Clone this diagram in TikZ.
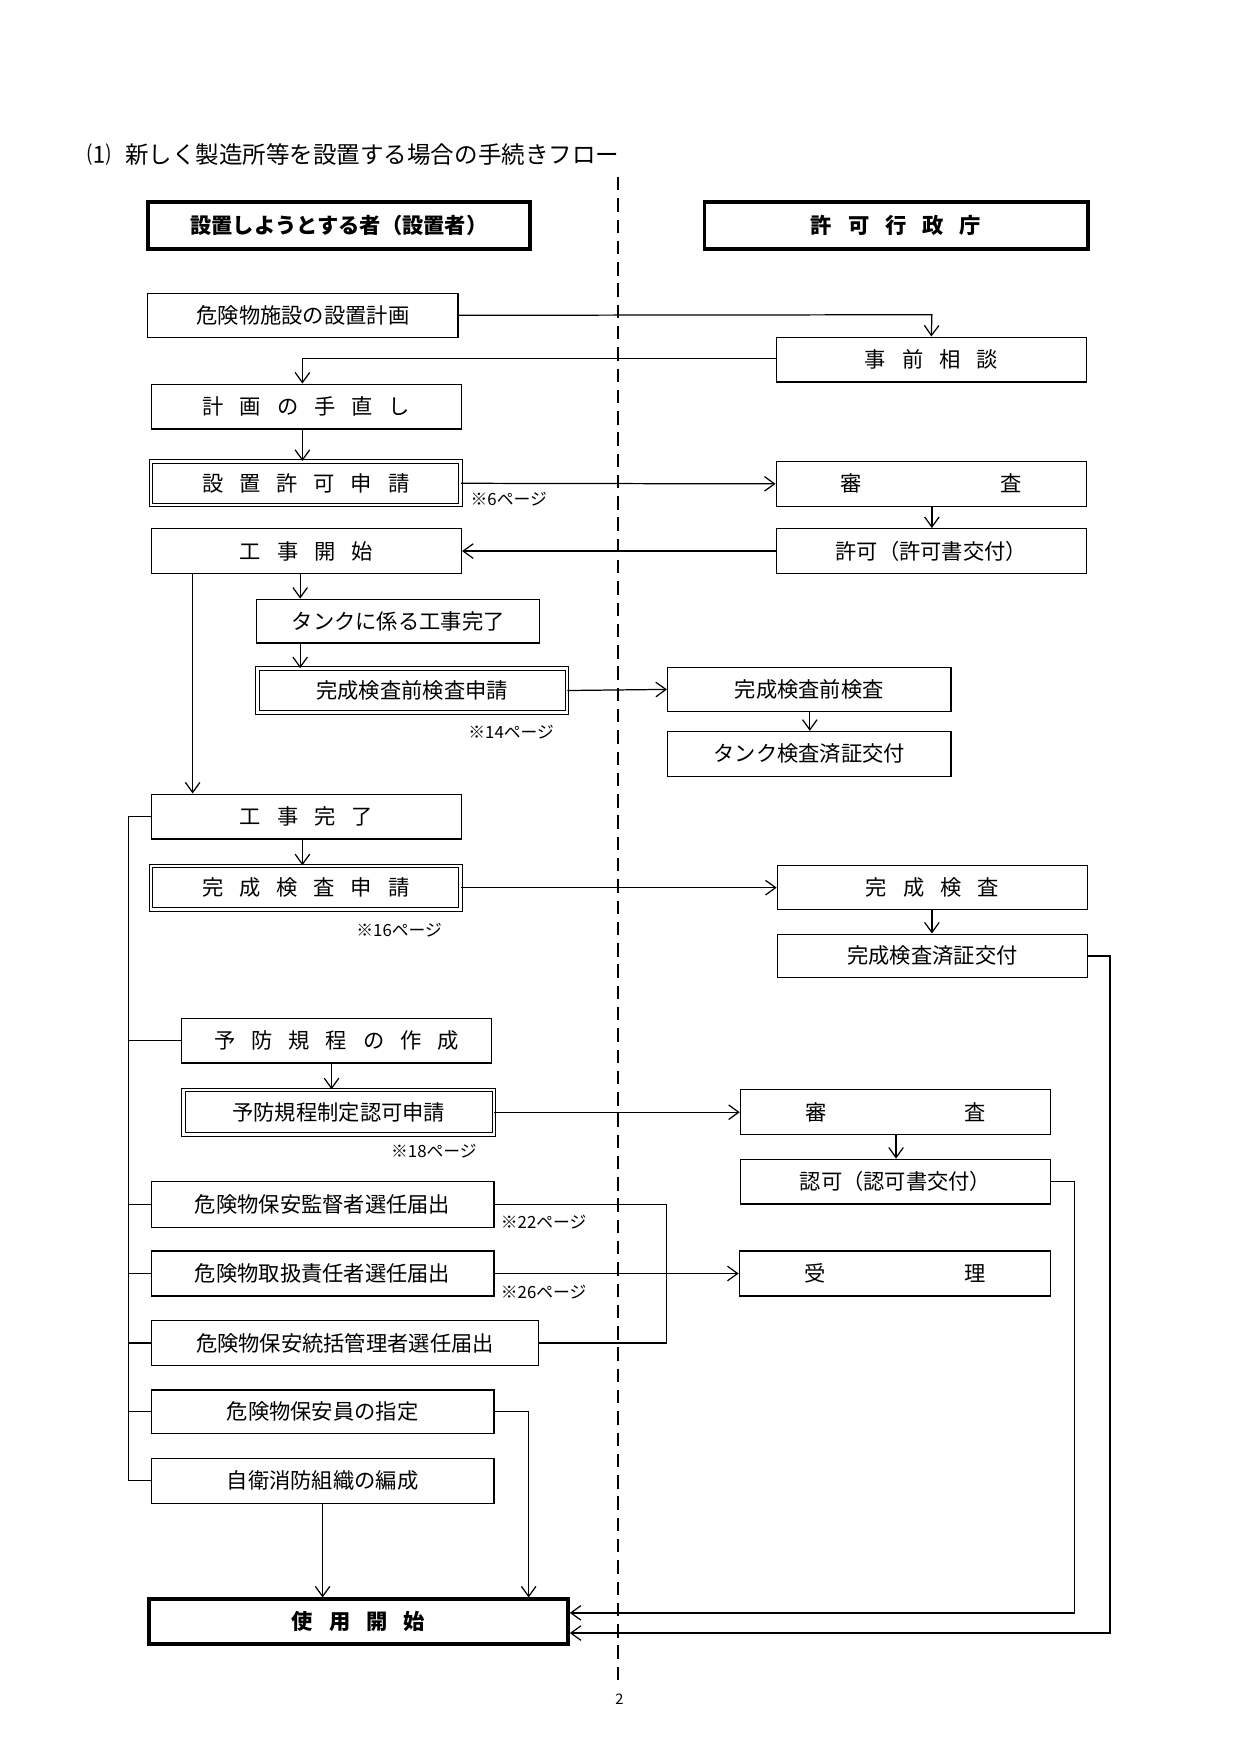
\documentclass[tikz,border=0pt]{standalone}
\usepackage{fontspec}
\setmainfont{Noto Sans CJK JP}
\usetikzlibrary{arrows.meta}
\newcommand\gp{\hspace{0.75em}}
\begin{document}
\begin{tikzpicture}[x=1pt,y=-1pt,
  every node/.style={font=\fontsize{19}{22}\selectfont},
  bx/.style={draw,line width=1.1pt,inner sep=0pt},
  dbl/.style={draw,line width=0.9pt,double,double distance=2.2pt,inner sep=0pt},
  hd/.style={draw,line width=3.5pt,inner sep=0pt,font=\fontsize{19}{22}\selectfont\bfseries},
  ln/.style={line width=1.1pt},
  ar/.style={ln,-{Straight Barb[length=9pt,width=13pt,line width=1.1pt]}},
  nt/.style={font=\fontsize{15}{17}\selectfont,anchor=west,inner sep=0pt}]
\useasboundingbox (0,0) rectangle (1108,1566);
\node[anchor=west,inner sep=0pt,font=\fontsize{21}{24}\selectfont] (title) at (78,138) {⑴\hspace{0.6em}新しく製造所等を設置する場合の手続きフロー};
\draw[line width=2pt,dash pattern=on 12pt off 7pt] (552,158) -- (552,1502);
\node[inner sep=0pt,font=\fontsize{13}{15}\selectfont] (pg) at (553,1517) {2};
\node[hd,minimum width=341pt,minimum height=42pt] (H1) at (302.5,201) {設置しようとする者（設置者）};
\node[hd,minimum width=342pt,minimum height=42pt] (H2) at (800,201) {許\gp 可\gp 行\gp 政\gp 庁};
% left
\node[bx,minimum width=277pt,minimum height=39pt] (A) at (270.5,281.5) {危険物施設の設置計画};
\node[bx,minimum width=277pt,minimum height=40pt] (C) at (273.5,363) {計\gp 画\gp の\gp 手\gp 直\gp し};
\node[dbl,minimum width=276pt,minimum height=39pt] (D) at (273,431.5) {設\gp 置\gp 許\gp 可\gp 申\gp 請};
\node[bx,minimum width=277pt,minimum height=40pt] (G) at (273.5,492) {工\gp 事\gp 開\gp 始};
\node[bx,minimum width=253pt,minimum height=39pt] (H) at (355.5,554.5) {タンクに係る工事完了};
\node[dbl,minimum width=276pt,minimum height=39pt] (I) at (368,616.5) {完成検査前検査申請};
\node[bx,minimum width=277pt,minimum height=40pt] (L) at (273.5,729) {工\gp 事\gp 完\gp 了};
\node[dbl,minimum width=276pt,minimum height=39pt] (M) at (273,792.5) {完\gp 成\gp 検\gp 査\gp 申\gp 請};
\node[bx,minimum width=277pt,minimum height=40pt] (P) at (300.5,929) {予\gp 防\gp 規\gp 程\gp の\gp 作\gp 成};
\node[dbl,minimum width=277pt,minimum height=40pt] (Q) at (302.5,993) {予防規程制定認可申請};
\node[bx,minimum width=306pt,minimum height=41pt] (T) at (288,1075.5) {危険物保安監督者選任届出};
\node[bx,minimum width=306pt,minimum height=40pt] (U) at (288,1137) {危険物取扱責任者選任届出};
\node[bx,minimum width=346pt,minimum height=40pt] (W) at (308,1199) {危険物保安統括管理者選任届出};
\node[bx,minimum width=306pt,minimum height=39pt] (X) at (288,1260.5) {危険物保安員の指定};
\node[bx,minimum width=306pt,minimum height=40pt] (Y) at (288,1322) {自衛消防組織の編成};
\node[hd,minimum width=374pt,minimum height=40pt] (Z) at (320,1448) {使\gp 用\gp 開\gp 始};
% right
\node[bx,minimum width=277pt,minimum height=40pt] (B) at (831.5,321) {事\gp 前\gp 相\gp 談};
\node[bx,minimum width=277pt,minimum height=40pt] (E) at (831.5,432) {審\hspace{6.5em}査};
\node[bx,minimum width=277pt,minimum height=40pt] (F) at (831.5,492) {許可（許可書交付）};
\node[bx,minimum width=253pt,minimum height=39pt] (J) at (722.5,615.5) {完成検査前検査};
\node[bx,minimum width=253pt,minimum height=40pt] (K) at (722.5,673) {タンク検査済証交付};
\node[bx,minimum width=277pt,minimum height=39pt] (N) at (832.5,792.5) {完\gp 成\gp 検\gp 査};
\node[bx,minimum width=277pt,minimum height=39pt] (O) at (832.5,853.5) {完成検査済証交付};
\node[bx,minimum width=277pt,minimum height=40pt] (R) at (799.5,993) {審\hspace{6.5em}査};
\node[bx,minimum width=277pt,minimum height=40pt] (S) at (799.5,1055) {認可（認可書交付）};
\node[bx,minimum width=278pt,minimum height=40pt] (V) at (799,1137) {受\hspace{6.5em}理};
% notes
\node[nt] (n6) at (420,446) {※6ページ};
\node[nt] (n14) at (418,654) {※14ページ};
\node[nt] (n16) at (318,830) {※16ページ};
\node[nt] (n18) at (349,1028) {※18ページ};
\node[nt] (n22) at (447,1091) {※22ページ};
\node[nt] (n26) at (447,1154) {※26ページ};
% connectors
\coordinate (c1) at (832,281);
\draw[ar] (A.east) -- (c1) -- (B.north);
\coordinate (c2) at (270,320);
\draw[ar] (B.west |- c2) -- (c2) -- (C.north -| c2);
\draw[ar] (C.south -| c2) -- (D.north -| c2);
\draw[ar] (D.east) -- (E.west);
\draw[ar] (E.south -| c1) -- (F.north -| c1);
\draw[ar] (F.west) -- (G.east);
\coordinate (c3) at (268,0);
\draw[ar] (G.south -| c3) -- (H.north -| c3);
\draw[ar] (H.south -| c3) -- (I.north -| c3);
\draw[ar] (I.east) -- (J.west);
\coordinate (c4) at (723,0);
\draw[ar] (J.south -| c4) -- (K.north -| c4);
\coordinate (c5) at (172,0);
\draw[ar] (G.south -| c5) -- (L.north -| c5);
\draw[ar] (L.south -| c2) -- (M.north -| c2);
\draw[ar] (M.east) -- (N.west);
\draw[ar] (N.south -| c1) -- (O.north -| c1);
\coordinate (b1) at (115,729);
\coordinate (b2) at (115,1322);
\draw[ln] (L.west) -- (b1) -- (b2) -- (Y.west);
\draw[ln] (b1 |- P.west) -- (P.west);
\draw[ln] (b1 |- T.west) -- (T.west);
\draw[ln] (b1 |- U.west) -- (U.west);
\draw[ln] (b1 |- W.west) -- (W.west);
\draw[ln] (b1 |- X.west) -- (X.west);
\coordinate (c6) at (296,0);
\draw[ar] (P.south -| c6) -- (Q.north -| c6);
\draw[ar] (Q.east) -- (R.west);
\coordinate (c7) at (800,0);
\draw[ar] (R.south -| c7) -- (S.north -| c7);
\coordinate (t1) at (595,1075.5);
\coordinate (t2) at (595,1199);
\draw[ln] (T.east) -- (t1) -- (t2) -- (W.east);
\draw[ar] (U.east) -- (V.west);
\coordinate (x1) at (472,1260.5);
\draw[ar] (X.east) -- (x1) -- (Z.north -| x1);
\coordinate (y1) at (288,0);
\draw[ar] (Y.south -| y1) -- (Z.north -| y1);
\coordinate (s1) at (959,1055);
\coordinate (s2) at (959,1440);
\draw[ar] (S.east) -- (s1) -- (s2) -- (Z.east |- s2);
\coordinate (o1) at (991,853.5);
\coordinate (o2) at (991,1458);
\draw[ar] (O.east) -- (o1) -- (o2) -- (Z.east |- o2);
\end{tikzpicture}
\end{document}
